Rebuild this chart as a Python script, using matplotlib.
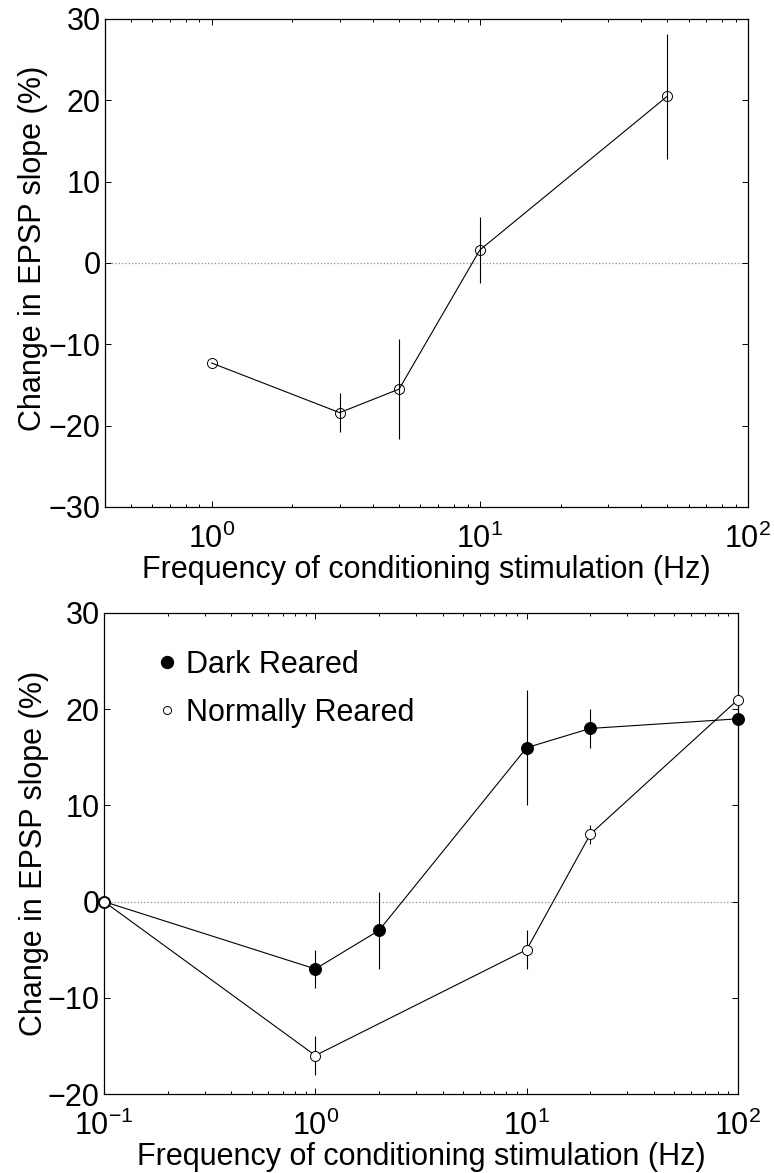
import numpy as np
import matplotlib
matplotlib.use('Agg')
import matplotlib.pyplot as plt
from matplotlib.lines import Line2D
from matplotlib.ticker import FixedLocator, FixedFormatter, LogLocator, NullFormatter

plt.rcParams['font.family'] = ['Liberation Sans', 'DejaVu Sans']
plt.rcParams['mathtext.fontset'] = 'custom'
plt.rcParams['mathtext.rm'] = 'Liberation Sans'
plt.rcParams['mathtext.it'] = 'Liberation Sans:italic'
plt.rcParams['mathtext.bf'] = 'Liberation Sans:bold'

# panel A - single group
freq_a = [1, 3, 5, 10, 50]
epsp_a = [-12.3, -18.4, -15.5, 1.6, 20.5]
err_a = [0, 2.4, 6.2, 4.1, 7.7]

# panel B - dark reared vs normally reared
freq_dark = [0.1, 1, 2, 10, 20, 100]
epsp_dark = [0, -7, -3, 16, 18, 19]
err_dark = [0, 2, 4, 6, 2, 0]

freq_norm = [0.1, 1, 10, 20, 100]
epsp_norm = [0, -16, -5, 7, 21]
err_norm = [0, 2, 2, 1, 0]

xlabel = 'Frequency of conditioning stimulation (Hz)'
ylabel = 'Change in EPSP slope (%)'
legend_labels = ['Dark Reared', 'Normally Reared']

FS = 22

fig = plt.figure(figsize=(7.74, 11.73), dpi=100)
ax1 = fig.add_axes([105/774, 1 - 507/1173, 643/774, 488/1173])
ax2 = fig.add_axes([104/774, 1 - 1094/1173, 634/774, 481/1173])


def estilo(ax, xlim, ylim, yticks, decades):
    ax.set_xscale('log')
    ax.set_xlim(*xlim)
    ax.set_ylim(*ylim)
    ax.set_yticks(yticks)
    ax.set_yticklabels([str(t).replace('-', '\u2212') for t in yticks])
    ax.xaxis.set_major_locator(FixedLocator([10.0**d for d in decades]))
    ax.xaxis.set_major_formatter(FixedFormatter([r'$\mathregular{10^{%d}}$' % d for d in decades]))
    ax.xaxis.set_minor_locator(LogLocator(base=10, subs=np.arange(2, 10)))
    ax.xaxis.set_minor_formatter(NullFormatter())
    ax.tick_params(which='both', direction='in', top=True, right=True, width=0.7)
    ax.tick_params(which='major', length=4.5, labelsize=FS)
    ax.tick_params(which='minor', length=2.2)
    ax.tick_params(axis='y', pad=3)
    ax.tick_params(axis='x', which='major', pad=12)
    for s in ax.spines.values():
        s.set_linewidth(0.9)
    ax.axhline(0, color='0.55', ls=':', lw=0.9, zorder=0)
    ax.set_xlabel(xlabel, fontsize=FS, labelpad=0)
    ax.set_ylabel(ylabel, fontsize=FS)


estilo(ax1, (0.4, 100), (-30, 30), [-30, -20, -10, 0, 10, 20, 30], [0, 1, 2])
ax1.errorbar(freq_a, epsp_a, yerr=err_a, fmt='o-', color='k', mfc='none', mec='k',
             ms=7.2, mew=0.7, lw=0.8, elinewidth=0.8, capsize=0, clip_on=False)
ax1.yaxis.set_label_coords(-0.089, 0.53)

estilo(ax2, (0.1, 100), (-20, 30), [-20, -10, 0, 10, 20, 30], [-1, 0, 1, 2])
ax2.errorbar(freq_dark, epsp_dark, yerr=err_dark, fmt='o-', color='k', mfc='k', mec='k',
             ms=8.6, mew=0.7, lw=0.8, elinewidth=0.8, capsize=0, clip_on=False, zorder=3)
ax2.errorbar(freq_norm, epsp_norm, yerr=err_norm, fmt='o-', color='k', mfc='white', mec='k',
             ms=7.2, mew=0.7, lw=0.8, elinewidth=0.8, capsize=0, clip_on=False, zorder=4)
ax2.yaxis.set_label_coords(-0.087, 0.5)

manejadores = [
    Line2D([], [], ls='none', marker='o', color='k', mfc='k', ms=8.6),
    Line2D([], [], ls='none', marker='o', color='k', mfc='white', ms=5.8, mew=0.7),
]
ax2.legend(manejadores, legend_labels, loc='upper left', bbox_to_anchor=(0.083, 0.924),
           frameon=False, fontsize=FS, handlelength=0.65, handletextpad=0.3,
           labelspacing=0.6, borderpad=0, borderaxespad=0)

fig.savefig('out.png', dpi=100)
